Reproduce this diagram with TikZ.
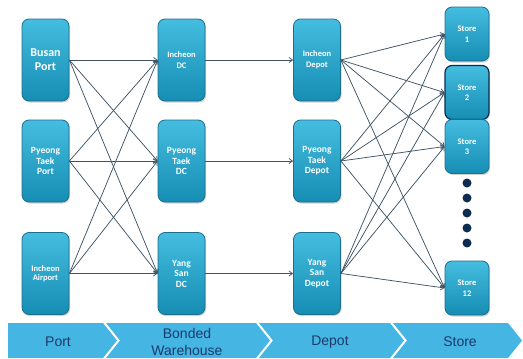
\documentclass[tikz,border=0pt]{standalone}
\usepackage{fontspec}
\setmainfont{Carlito}
\newfontfamily\barfont{Liberation Sans}
\usetikzlibrary{arrows.meta,shadows}
\definecolor{boxtop}{HTML}{44BDE0}
\definecolor{boxbot}{HTML}{168DB3}
\definecolor{boxedge}{HTML}{1B6E8E}
\definecolor{linkc}{HTML}{3E5568}
\definecolor{barc}{HTML}{45B5E3}
\definecolor{bartext}{HTML}{1B3B6C}
\definecolor{dotc}{HTML}{0E2C50}
\begin{document}
\begin{tikzpicture}[x=1pt,y=-1pt,
  box/.style={rectangle, rounded corners=7pt, draw=boxedge, line width=0.8pt,
    top color=boxtop, bottom color=boxbot,
    minimum width=47pt, minimum height=82pt, inner sep=1pt,
    align=center, text=white, font=\bfseries\fontsize{9.5}{10.5}\selectfont,
    drop shadow={opacity=0.35, shadow xshift=1pt, shadow yshift=-1.5pt}},
  storebox/.style={box, minimum width=44pt, minimum height=54pt,
    font=\bfseries\fontsize{8.5}{10.5}\selectfont},
  link/.style={draw=linkc, line width=0.75pt,
    -{Straight Barb[length=3.5pt,width=5pt,line width=0.75pt]}},
  chev/.style={fill=barc, draw=none},
  bartxt/.style={text=bartext, align=center,
    font=\barfont\fontsize{14}{17}\selectfont}
]
\useasboundingbox (0,0) rectangle (523,359);

% column 1: ports
\node[box, font=\bfseries\fontsize{12}{14}\selectfont] (busan) at (45.5,60) {Busan\\Port};
\node[box] (ptport) at (45.5,161) {Pyeong\\Taek\\Port};
\node[box, font=\bfseries\fontsize{8.5}{9.5}\selectfont] (airport) at (45.5,273.5) {Incheon\\Airport};

% column 2: bonded warehouses
\node[box, font=\bfseries\fontsize{8.5}{11}\selectfont] (icdc) at (181.5,60) {Incheon\\DC};
\node[box] (ptdc) at (181.5,161) {Pyeong\\Taek\\DC};
\node[box] (ysdc) at (181.5,273.5) {Yang\\San\\DC};

% column 3: depots
\node[box, font=\bfseries\fontsize{8.5}{11}\selectfont] (icdepot) at (317,60) {Incheon\\Depot};
\node[box] (ptdepot) at (317,161) {Pyeong\\Taek\\Depot};
\node[box] (ysdepot) at (317,273.5) {Yang\\San\\Depot};

% column 4: stores
\node[storebox] (s1) at (467,34) {Store\\1};
\node[storebox, draw=dotc, line width=1.2pt] (s2) at (467,92.5) {Store\\2};
\node[storebox] (s3) at (467,146.5) {Store\\3};
\node[storebox] (s12) at (467,288) {Store\\12};

% ellipsis between store 3 and store 12
\foreach \k/\yy in {a/183,b/198,c/213,d/228,e/243}
  \fill[dotc] (467,\yy) circle (4.5pt) coordinate (dot\k);

% ports to bonded warehouses
\foreach \p in {busan,ptport,airport}
  \foreach \d in {icdc,ptdc,ysdc}
    \draw[link] (\p.east) -- (\d.west);

% bonded warehouses to depots
\draw[link] (icdc.east) -- (icdepot.west);
\draw[link] (ptdc.east) -- (ptdepot.west);
\draw[link] (ysdc.east) -- (ysdepot.west);

% depots to stores
\foreach \p in {icdepot,ptdepot,ysdepot}
  \foreach \s in {s1,s2,s3,s12}
    \draw[link] (\p.east) -- (\s.west);

% stage bar along the bottom
\fill[chev] (8,323) -- (103,323) -- (117,340.5) -- (103,358) -- (8,358) -- cycle;
\fill[chev] (106,323) -- (256,323) -- (270,340.5) -- (256,358) -- (106,358) -- (120,340.5) -- cycle;
\fill[chev] (259,323) -- (390,323) -- (404,340.5) -- (390,358) -- (259,358) -- (273,340.5) -- cycle;
\fill[chev] (393,323) -- (508,323) -- (522,340.5) -- (508,358) -- (393,358) -- (407,340.5) -- cycle;

\node[bartxt] (tport) at (58,342) {Port};
\node[bartxt] (tbonded) at (187,342) {Bonded\\Warehouse};
\node[bartxt] (tdepot) at (330,342) {Depot};
\node[bartxt] (tstore) at (460,342) {Store};
\end{tikzpicture}
\end{document}
